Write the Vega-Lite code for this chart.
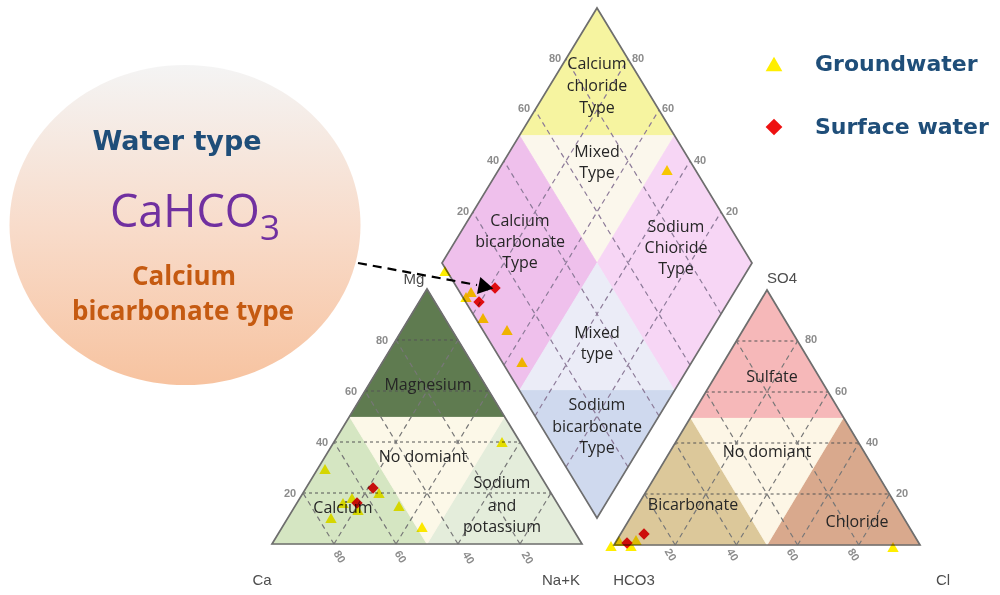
{
  "$schema": "https://vega.github.io/schema/vega-lite/v6.json",
  "width": 1000,
  "height": 595,
  "padding": 0,
  "autosize": {"type": "none"},
  "background": "white",
  "config": {"view": {"stroke": null}},
  "datasets": {
    "regions": [
      {"region": "Calcium", "i": 0, "x": 272, "y": 544},
      {"region": "Calcium", "i": 1, "x": 427, "y": 544},
      {"region": "Calcium", "i": 2, "x": 349.5, "y": 416.5},
      {"region": "Sodium and potassium", "i": 0, "x": 427, "y": 544},
      {"region": "Sodium and potassium", "i": 1, "x": 582, "y": 544},
      {"region": "Sodium and potassium", "i": 2, "x": 504.5, "y": 416.5},
      {"region": "Cation no dominant", "i": 0, "x": 349.5, "y": 416.5},
      {"region": "Cation no dominant", "i": 1, "x": 504.5, "y": 416.5},
      {"region": "Cation no dominant", "i": 2, "x": 427, "y": 544},
      {"region": "Magnesium", "i": 0, "x": 349.5, "y": 416.5},
      {"region": "Magnesium", "i": 1, "x": 504.5, "y": 416.5},
      {"region": "Magnesium", "i": 2, "x": 427, "y": 289},
      {"region": "Bicarbonate", "i": 0, "x": 614, "y": 545},
      {"region": "Bicarbonate", "i": 1, "x": 767, "y": 545},
      {"region": "Bicarbonate", "i": 2, "x": 690.5, "y": 417.5},
      {"region": "Chloride", "i": 0, "x": 767, "y": 545},
      {"region": "Chloride", "i": 1, "x": 920, "y": 545},
      {"region": "Chloride", "i": 2, "x": 843.5, "y": 417.5},
      {"region": "Anion no dominant", "i": 0, "x": 690.5, "y": 417.5},
      {"region": "Anion no dominant", "i": 1, "x": 843.5, "y": 417.5},
      {"region": "Anion no dominant", "i": 2, "x": 767, "y": 545},
      {"region": "Sulfate", "i": 0, "x": 690.5, "y": 417.5},
      {"region": "Sulfate", "i": 1, "x": 843.5, "y": 417.5},
      {"region": "Sulfate", "i": 2, "x": 767, "y": 290},
      {"region": "Calcium chloride", "i": 0, "x": 597, "y": 8},
      {"region": "Calcium chloride", "i": 1, "x": 674.5, "y": 135.5},
      {"region": "Calcium chloride", "i": 2, "x": 519.5, "y": 135.5},
      {"region": "Mixed upper", "i": 0, "x": 519.5, "y": 135.5},
      {"region": "Mixed upper", "i": 1, "x": 674.5, "y": 135.5},
      {"region": "Mixed upper", "i": 2, "x": 597, "y": 263},
      {"region": "Calcium bicarbonate", "i": 0, "x": 442, "y": 263},
      {"region": "Calcium bicarbonate", "i": 1, "x": 519.5, "y": 135.5},
      {"region": "Calcium bicarbonate", "i": 2, "x": 597, "y": 263},
      {"region": "Calcium bicarbonate", "i": 3, "x": 519.5, "y": 390.5},
      {"region": "Sodium chloride", "i": 0, "x": 752, "y": 263},
      {"region": "Sodium chloride", "i": 1, "x": 674.5, "y": 135.5},
      {"region": "Sodium chloride", "i": 2, "x": 597, "y": 263},
      {"region": "Sodium chloride", "i": 3, "x": 674.5, "y": 390.5},
      {"region": "Mixed lower", "i": 0, "x": 597, "y": 263},
      {"region": "Mixed lower", "i": 1, "x": 674.5, "y": 390.5},
      {"region": "Mixed lower", "i": 2, "x": 519.5, "y": 390.5},
      {"region": "Sodium bicarbonate", "i": 0, "x": 519.5, "y": 390.5},
      {"region": "Sodium bicarbonate", "i": 1, "x": 674.5, "y": 390.5},
      {"region": "Sodium bicarbonate", "i": 2, "x": 597, "y": 518}
    ],
    "outlines": [
      {"shape": "cation", "i": 0, "x": 272, "y": 544},
      {"shape": "cation", "i": 1, "x": 582, "y": 544},
      {"shape": "cation", "i": 2, "x": 427, "y": 289},
      {"shape": "anion", "i": 0, "x": 614, "y": 545},
      {"shape": "anion", "i": 1, "x": 920, "y": 545},
      {"shape": "anion", "i": 2, "x": 767, "y": 290},
      {"shape": "diamond", "i": 0, "x": 597, "y": 8},
      {"shape": "diamond", "i": 1, "x": 752, "y": 263},
      {"shape": "diamond", "i": 2, "x": 597, "y": 518},
      {"shape": "diamond", "i": 3, "x": 442, "y": 263}
    ],
    "gridH": [
      {"x": 303, "y": 493, "x2": 551, "y2": 493},
      {"x": 334, "y": 442, "x2": 520, "y2": 442},
      {"x": 365, "y": 391, "x2": 489, "y2": 391},
      {"x": 396, "y": 340, "x2": 458, "y2": 340},
      {"x": 644.6, "y": 494, "x2": 889.4, "y2": 494},
      {"x": 675.2, "y": 443, "x2": 858.8, "y2": 443},
      {"x": 705.8, "y": 392, "x2": 828.2, "y2": 392},
      {"x": 736.4, "y": 341, "x2": 797.6, "y2": 341}
    ],
    "gridD": [
      {"x": 334, "y": 544, "x2": 458, "y2": 340},
      {"x": 396, "y": 544, "x2": 489, "y2": 391},
      {"x": 458, "y": 544, "x2": 520, "y2": 442},
      {"x": 520, "y": 544, "x2": 551, "y2": 493},
      {"x": 334, "y": 544, "x2": 303, "y2": 493},
      {"x": 396, "y": 544, "x2": 334, "y2": 442},
      {"x": 458, "y": 544, "x2": 365, "y2": 391},
      {"x": 520, "y": 544, "x2": 396, "y2": 340},
      {"x": 675.2, "y": 545, "x2": 797.6, "y2": 341},
      {"x": 736.4, "y": 545, "x2": 828.2, "y2": 392},
      {"x": 797.6, "y": 545, "x2": 858.8, "y2": 443},
      {"x": 858.8, "y": 545, "x2": 889.4, "y2": 494},
      {"x": 675.2, "y": 545, "x2": 644.6, "y2": 494},
      {"x": 736.4, "y": 545, "x2": 675.2, "y2": 443},
      {"x": 797.6, "y": 545, "x2": 705.8, "y2": 392},
      {"x": 858.8, "y": 545, "x2": 736.4, "y2": 341}
    ],
    "gridDiamond": [
      {"x": 566, "y": 467, "x2": 721, "y2": 212},
      {"x": 535, "y": 416, "x2": 690, "y2": 161},
      {"x": 504, "y": 365, "x2": 659, "y2": 110},
      {"x": 473, "y": 314, "x2": 628, "y2": 59},
      {"x": 628, "y": 467, "x2": 473, "y2": 212},
      {"x": 659, "y": 416, "x2": 504, "y2": 161},
      {"x": 690, "y": 365, "x2": 535, "y2": 110},
      {"x": 721, "y": 314, "x2": 566, "y2": 59}
    ],
    "regionText": [
      {"t": "Calcium", "x": 597, "y": 64},
      {"t": "chloride", "x": 597, "y": 86},
      {"t": "Type", "x": 597, "y": 108},
      {"t": "Mixed", "x": 597, "y": 152},
      {"t": "Type", "x": 597, "y": 173},
      {"t": "Calcium", "x": 520, "y": 221},
      {"t": "bicarbonate", "x": 520, "y": 242},
      {"t": "Type", "x": 520, "y": 263},
      {"t": "Sodium", "x": 676, "y": 227},
      {"t": "Chioride", "x": 676, "y": 248},
      {"t": "Type", "x": 676, "y": 269},
      {"t": "Mixed", "x": 597, "y": 333},
      {"t": "type", "x": 597, "y": 354},
      {"t": "Sodium", "x": 597, "y": 405},
      {"t": "bicarbonate", "x": 597, "y": 427},
      {"t": "Type", "x": 597, "y": 448},
      {"t": "Magnesium", "x": 428, "y": 385},
      {"t": "No domiant", "x": 423, "y": 457},
      {"t": "Sodium", "x": 502, "y": 483},
      {"t": "and", "x": 502, "y": 506},
      {"t": "potassium", "x": 502, "y": 527},
      {"t": "Calcium", "x": 343, "y": 508},
      {"t": "Sulfate", "x": 772, "y": 377},
      {"t": "No domiant", "x": 767, "y": 452},
      {"t": "Bicarbonate", "x": 693, "y": 505},
      {"t": "Chloride", "x": 857, "y": 522}
    ],
    "tickText": [
      {"t": "80", "x": 555, "y": 59},
      {"t": "60", "x": 524, "y": 109},
      {"t": "40", "x": 493, "y": 161},
      {"t": "20", "x": 463, "y": 212},
      {"t": "80", "x": 638, "y": 59},
      {"t": "60", "x": 668, "y": 109},
      {"t": "40", "x": 700, "y": 161},
      {"t": "20", "x": 732, "y": 212},
      {"t": "80", "x": 382, "y": 341},
      {"t": "60", "x": 351, "y": 392},
      {"t": "40", "x": 322, "y": 443},
      {"t": "20", "x": 290, "y": 494},
      {"t": "80", "x": 811, "y": 340},
      {"t": "60", "x": 841, "y": 392},
      {"t": "40", "x": 872, "y": 443},
      {"t": "20", "x": 902, "y": 494}
    ],
    "tickTextRot": [
      {"t": "80", "x": 339, "y": 557},
      {"t": "60", "x": 400, "y": 557},
      {"t": "40", "x": 468, "y": 558},
      {"t": "20", "x": 527, "y": 558},
      {"t": "20", "x": 670, "y": 555},
      {"t": "40", "x": 732, "y": 555},
      {"t": "60", "x": 792, "y": 555},
      {"t": "80", "x": 853, "y": 555}
    ],
    "cornerText": [
      {"t": "Ca", "x": 262, "y": 580},
      {"t": "Na+K", "x": 561, "y": 580},
      {"t": "Mg", "x": 414, "y": 279},
      {"t": "HCO3", "x": 634, "y": 580},
      {"t": "SO4", "x": 782, "y": 278},
      {"t": "Cl", "x": 943, "y": 580}
    ],
    "samples": [
      {"water": "Groundwater", "x": 325, "y": 469},
      {"water": "Groundwater", "x": 343, "y": 503},
      {"water": "Groundwater", "x": 352, "y": 498},
      {"water": "Groundwater", "x": 358, "y": 510},
      {"water": "Groundwater", "x": 331, "y": 518},
      {"water": "Groundwater", "x": 379, "y": 493},
      {"water": "Groundwater", "x": 399, "y": 506},
      {"water": "Groundwater", "x": 422, "y": 527},
      {"water": "Groundwater", "x": 502, "y": 442},
      {"water": "Groundwater", "x": 445, "y": 271},
      {"water": "Groundwater", "x": 466, "y": 297},
      {"water": "Groundwater", "x": 471, "y": 292},
      {"water": "Groundwater", "x": 483, "y": 318},
      {"water": "Groundwater", "x": 507, "y": 330},
      {"water": "Groundwater", "x": 522, "y": 362},
      {"water": "Groundwater", "x": 667, "y": 170},
      {"water": "Groundwater", "x": 611, "y": 546},
      {"water": "Groundwater", "x": 619, "y": 541},
      {"water": "Groundwater", "x": 631, "y": 546},
      {"water": "Groundwater", "x": 636, "y": 540},
      {"water": "Groundwater", "x": 893, "y": 547},
      {"water": "Surface water", "x": 495, "y": 288},
      {"water": "Surface water", "x": 479, "y": 302},
      {"water": "Surface water", "x": 373, "y": 488},
      {"water": "Surface water", "x": 357, "y": 503},
      {"water": "Surface water", "x": 644, "y": 534},
      {"water": "Surface water", "x": 627, "y": 543}
    ]
  },
  "encoding": {
    "x": {"field": "x", "type": "quantitative", "scale": {"domain": [0, 1000], "nice": false, "zero": false}, "axis": null},
    "y": {"field": "y", "type": "quantitative", "scale": {"domain": [0, 595], "nice": false, "zero": false, "reverse": true}, "axis": null}
  },
  "layer": [
    {
      "data": {"name": "regions"},
      "mark": {"type": "line", "interpolate": "linear-closed", "strokeWidth": 0.8},
      "encoding": {
        "order": {"field": "i", "type": "quantitative"},
        "detail": {"field": "region", "type": "nominal"},
        "fill": {
          "field": "region", "type": "nominal", "legend": null,
          "scale": {
            "domain": ["Calcium", "Sodium and potassium", "Cation no dominant", "Magnesium", "Bicarbonate", "Chloride", "Anion no dominant", "Sulfate", "Calcium chloride", "Mixed upper", "Calcium bicarbonate", "Sodium chloride", "Mixed lower", "Sodium bicarbonate"],
            "range": ["#d5e6c2", "#e4eddb", "#fcf8e8", "#5f7b50", "#dcc89a", "#d9a98d", "#fdf6e6", "#f6b8b9", "#f6f4a0", "#fbf7ec", "#efc0ec", "#f7d6f5", "#ebecf7", "#cfd9ee"]
          }
        },
        "stroke": {
          "field": "region", "type": "nominal", "legend": null,
          "scale": {
            "domain": ["Calcium", "Sodium and potassium", "Cation no dominant", "Magnesium", "Bicarbonate", "Chloride", "Anion no dominant", "Sulfate", "Calcium chloride", "Mixed upper", "Calcium bicarbonate", "Sodium chloride", "Mixed lower", "Sodium bicarbonate"],
            "range": ["#d5e6c2", "#e4eddb", "#fcf8e8", "#5f7b50", "#dcc89a", "#d9a98d", "#fdf6e6", "#f6b8b9", "#f6f4a0", "#fbf7ec", "#efc0ec", "#f7d6f5", "#ebecf7", "#cfd9ee"]
          }
        }
      }
    },
    {
      "data": {"name": "gridH"},
      "mark": {"type": "rule", "color": "#555555", "strokeWidth": 1.2, "strokeDash": [3, 3]},
      "encoding": {"x2": {"field": "x2"}, "y2": {"field": "y2"}}
    },
    {
      "data": {"name": "gridD"},
      "mark": {"type": "rule", "color": "#777777", "strokeWidth": 1.2, "strokeDash": [5, 4]},
      "encoding": {"x2": {"field": "x2"}, "y2": {"field": "y2"}}
    },
    {
      "data": {"name": "gridDiamond"},
      "mark": {"type": "rule", "color": "#8c7a98", "strokeWidth": 1.2, "strokeDash": [5, 4]},
      "encoding": {"x2": {"field": "x2"}, "y2": {"field": "y2"}}
    },
    {
      "data": {"name": "outlines"},
      "mark": {"type": "line", "interpolate": "linear-closed", "color": "#6e6e6e", "strokeWidth": 1.7},
      "encoding": {
        "order": {"field": "i", "type": "quantitative"},
        "detail": {"field": "shape", "type": "nominal"}
      }
    },
    {
      "data": {"name": "regionText"},
      "mark": {"type": "text", "font": "Open Sans", "fontSize": 16, "color": "#262626", "align": "center", "baseline": "middle"},
      "encoding": {"text": {"field": "t", "type": "nominal"}}
    },
    {
      "data": {"name": "tickText"},
      "mark": {"type": "text", "font": "Liberation Sans Narrow, Liberation Sans", "fontWeight": "bold", "fontSize": 11, "color": "#8c8c8c", "align": "center", "baseline": "middle"},
      "encoding": {"text": {"field": "t", "type": "nominal"}}
    },
    {
      "data": {"name": "tickTextRot"},
      "mark": {"type": "text", "font": "Liberation Sans Narrow, Liberation Sans", "fontWeight": "bold", "fontSize": 11, "color": "#8c8c8c", "align": "center", "baseline": "middle", "angle": 60},
      "encoding": {"text": {"field": "t", "type": "nominal"}}
    },
    {
      "data": {"name": "cornerText"},
      "mark": {"type": "text", "font": "Liberation Sans", "fontSize": 15, "color": "#4d4d4d", "align": "center", "baseline": "middle"},
      "encoding": {"text": {"field": "t", "type": "nominal"}}
    },
    {
      "data": {"name": "samples"},
      "mark": {"type": "point", "filled": true, "opacity": 1, "size": 130, "strokeWidth": 0, "blend": "multiply"},
      "encoding": {
        "color": {
          "field": "water", "type": "nominal",
          "scale": {"domain": ["Groundwater", "Surface water"], "range": ["#ffee00", "#ee1111"]},
          "legend": {"title": null, "orient": "none", "legendX": 763, "legendY": 53, "padding": 0, "labelFont": "DejaVu Sans", "labelFontWeight": "bold", "labelFontSize": 22, "labelColor": "#1f4e79", "labelLimit": 400, "symbolSize": 280, "labelOffset": 30, "rowPadding": 41, "symbolStrokeWidth": 0}
        },
        "shape": {
          "field": "water", "type": "nominal",
          "scale": {"domain": ["Groundwater", "Surface water"], "range": ["triangle-up", "diamond"]},
          "legend": {"title": null, "orient": "none", "legendX": 763, "legendY": 53, "padding": 0, "labelFont": "DejaVu Sans", "labelFontWeight": "bold", "labelFontSize": 22, "labelColor": "#1f4e79", "labelLimit": 400, "symbolSize": 280, "labelOffset": 30, "rowPadding": 41, "symbolStrokeWidth": 0}
        }
      }
    },
    {
      "data": {"values": [{"x": 185, "y": 225}]},
      "mark": {
        "type": "point", "filled": true, "opacity": 1, "strokeWidth": 0, "size": 123201,
        "shape": "M -1 0 A 1 0.912 0 1 1 1 0 A 1 0.912 0 1 1 -1 0 Z",
        "fill": {"gradient": "linear", "x1": 0, "y1": 0, "x2": 0, "y2": 1, "stops": [{"offset": 0, "color": "#f4f4f4"}, {"offset": 0.5, "color": "#f8dccb"}, {"offset": 1, "color": "#f7c3a0"}]}
      }
    },
    {
      "data": {"values": [{"t": "Water type", "x": 177, "y": 142}]},
      "mark": {"type": "text", "font": "DejaVu Sans", "fontWeight": "bold", "fontSize": 27, "color": "#1f4e79", "align": "center", "baseline": "middle"},
      "encoding": {"text": {"field": "t", "type": "nominal"}}
    },
    {
      "data": {"values": [{"t": "CaHCO", "x": 110, "y": 227}]},
      "mark": {"type": "text", "font": "Open Sans", "fontSize": 45, "color": "#7030a0", "align": "left", "baseline": "alphabetic"},
      "encoding": {"text": {"field": "t", "type": "nominal"}}
    },
    {
      "data": {"values": [{"t": "3", "x": 260, "y": 240}]},
      "mark": {"type": "text", "font": "Open Sans", "fontSize": 35, "color": "#7030a0", "align": "left", "baseline": "alphabetic"},
      "encoding": {"text": {"field": "t", "type": "nominal"}}
    },
    {
      "data": {"values": [{"t": "Calcium", "x": 184, "y": 277}, {"t": "bicarbonate type", "x": 183, "y": 312}]},
      "mark": {"type": "text", "font": "Open Sans", "fontWeight": "bold", "fontSize": 26, "color": "#c55a11", "align": "center", "baseline": "middle"},
      "encoding": {"text": {"field": "t", "type": "nominal"}}
    },
    {
      "data": {"values": [{"i": 0, "x": 358, "y": 263}, {"i": 1, "x": 477, "y": 285}]},
      "mark": {"type": "line", "color": "#000000", "strokeWidth": 2.2, "strokeDash": [9, 6]},
      "encoding": {"order": {"field": "i", "type": "quantitative"}}
    },
    {
      "data": {"values": [{"x": 486, "y": 287}]},
      "mark": {"type": "point", "shape": "triangle-right", "angle": 11, "size": 300, "filled": true, "opacity": 1, "color": "#000000", "strokeWidth": 0}
    }
  ]
}
